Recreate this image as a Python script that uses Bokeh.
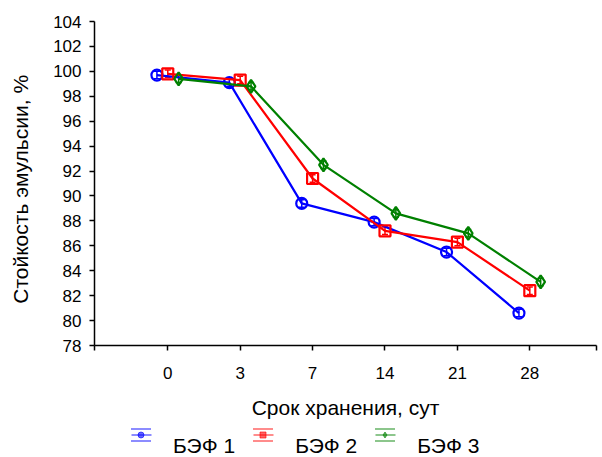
from bokeh.plotting import figure
from bokeh.layouts import column
from bokeh.models import (ColumnDataSource, Range1d, FixedTicker, CustomJSTickFormatter,
                          Whisker, TeeHead, Legend, LegendItem)
from bokeh.embed import file_html
from bokeh.resources import INLINE

# ---- data ----
days = ["0", "3", "7", "14", "21", "28"]
bef1 = [99.7, 99.1, 89.4, 87.9, 85.5, 80.6]
bef2 = [99.8, 99.3, 91.4, 87.2, 86.3, 82.4]
bef3 = [99.4, 98.8, 92.5, 88.6, 87.0, 83.1]
err = [0.3, 0.3, 0.3, 0.3, 0.3, 0.3]
series_names = ["БЭФ 1", "БЭФ 2", "БЭФ 3"]
y_ticks = list(range(78, 105, 2))

FONT = "Liberation Sans"
colors = ["#0000ff", "#ff0000", "#008000"]
markers = ["circle", "square", "diamond"]
msizes = [11, 11, 13]
dodge = [-0.15, 0.0, 0.15]

H1 = 425
p = figure(width=602, height=H1, output_backend="svg", toolbar_location=None,
           x_range=Range1d(-1.012, 5.921), y_range=Range1d(78, 104),
           min_border_left=94, min_border_right=6, min_border_top=21, min_border_bottom=H1 - 345)
p.outline_line_color = None
p.grid.visible = False
p.background_fill_color = "white"
p.border_fill_color = "white"

# axes
xa = p.xaxis[0]
xa.ticker = FixedTicker(ticks=[-1.012, 0, 1, 2, 3, 4, 5, 5.921])
xa.formatter = CustomJSTickFormatter(args=dict(labels=days), code="""
const i = Math.round(tick);
if (Math.abs(tick - i) < 1e-6 && i >= 0 && i < labels.length) { return labels[i]; }
return "";
""")
ya = p.yaxis[0]
ya.ticker = FixedTicker(ticks=y_ticks)
for ax in (xa, ya):
    ax.axis_line_width = 1.5
    ax.major_tick_line_width = 1.5
    ax.major_tick_out = 5
    ax.major_tick_in = 0
    ax.minor_tick_line_color = None
    ax.major_label_text_font = FONT
    ax.major_label_text_font_size = "17px"
    ax.major_label_text_color = "black"
    ax.axis_label_text_font = FONT
    ax.axis_label_text_font_size = "21px"
    ax.axis_label_text_font_style = "normal"
    ax.axis_label_text_color = "black"
xa.axis_label = "Срок хранения, сут"
ya.axis_label = "Стойкость эмульсии, %\u00a0\u00a0"
xa.major_label_standoff = 16
xa.axis_label_standoff = 14
ya.major_label_standoff = 8
ya.axis_label_standoff = 18

# legend strip
lg = figure(width=602, height=457 - H1, output_backend="svg", toolbar_location=None,
            x_range=Range1d(0, 1), y_range=Range1d(0, 1),
            min_border_left=0, min_border_right=0, min_border_top=0, min_border_bottom=0)
lg.axis.visible = False
lg.grid.visible = False
lg.outline_line_color = None
lg.background_fill_color = "white"
lg.border_fill_color = "white"

items = []
for vals, name, col, mk, ms, dx in zip([bef1, bef2, bef3], series_names, colors, markers, msizes, dodge):
    xs = [i + dx for i in range(len(days))]
    src = ColumnDataSource(dict(x=xs, y=vals,
                                lo=[v - e for v, e in zip(vals, err)],
                                hi=[v + e for v, e in zip(vals, err)]))
    p.line("x", "y", source=src, line_color=col, line_width=2.2)
    w = Whisker(base="x", lower="lo", upper="hi", dimension="height", source=src,
                line_color=col, line_width=1.5,
                lower_head=TeeHead(size=6, line_color=col, line_width=1.5),
                upper_head=TeeHead(size=6, line_color=col, line_width=1.5))
    p.add_layout(w)
    p.scatter("x", "y", source=src, marker=mk, size=ms, fill_color=None,
              line_color=col, line_width=2.2)

    # legend icon pieces (source lies outside the strip's visible range)
    off = ColumnDataSource(dict(x=[-50, -49], y=[-50, -50]))
    a = 0.6
    r_caps = lg.rect("x", "y", width=1, height=1, source=off, fill_color=None,
                     line_color=col, line_alpha=a, line_width=1.5, line_dash="20 12")
    r_mid = lg.line("x", "y", source=off, line_color=col, line_alpha=a, line_width=1.5,
                    line_dash="20 5", line_dash_offset=22)
    r_mk = lg.scatter("x", "y", source=off, marker=mk, size=6, fill_color=col, fill_alpha=a,
                      line_color=col, line_alpha=a, line_width=1)
    # leading empty line drops the label a little below the icon, as in the reference
    items.append(LegendItem(label="\n" + name, renderers=[r_caps, r_mid, r_mk]))

legend = Legend(items=items, orientation="horizontal", location=(34, -1),
                glyph_width=25, glyph_height=15, label_standoff=20, spacing=15,
                padding=0, margin=0, border_line_color=None, background_fill_alpha=0,
                label_text_font=FONT, label_text_font_size="21px", label_text_color="black",
                label_text_line_height=0.86)
lg.add_layout(legend, "center")

layout = column(p, lg, spacing=0)
open("out.html", "w").write(file_html(layout, INLINE))
